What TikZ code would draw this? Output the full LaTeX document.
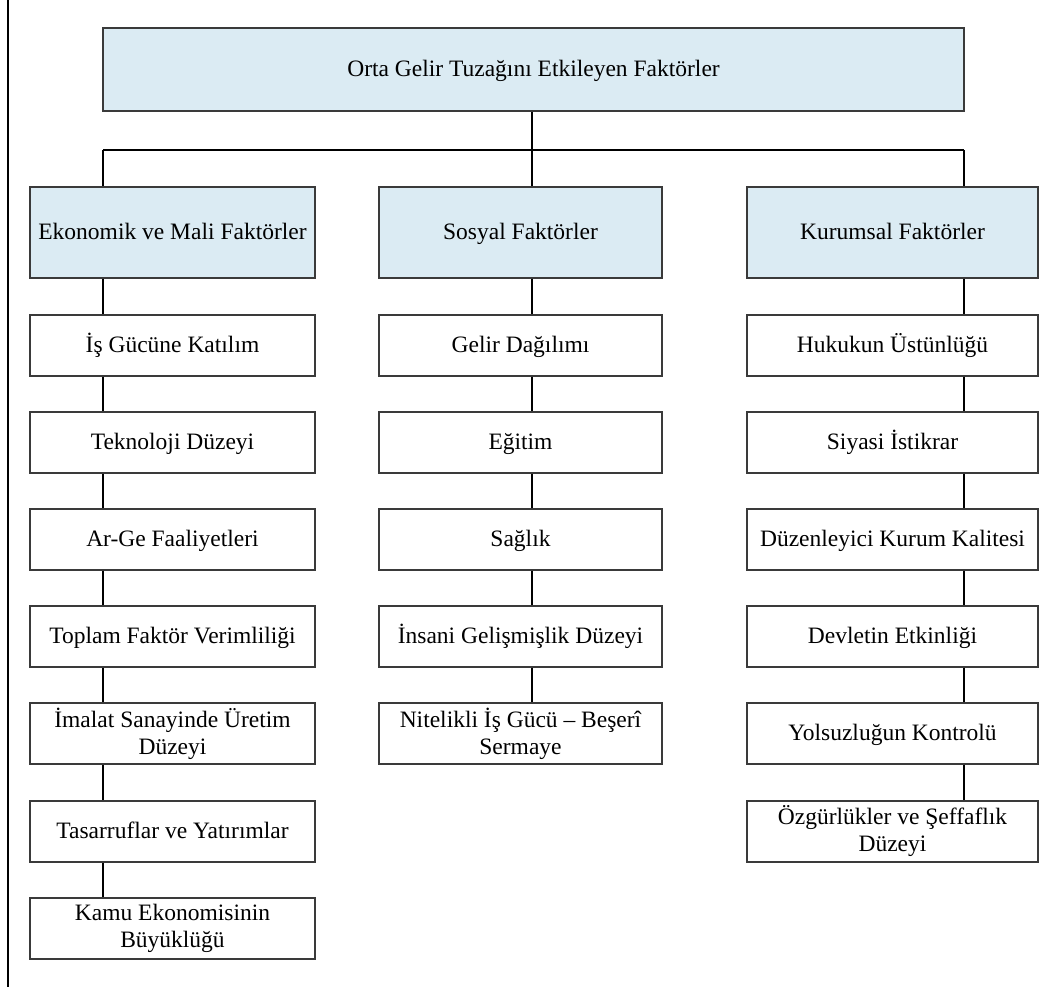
\documentclass[tikz,border=0pt]{standalone}
\usepackage{fontspec}
\setmainfont{Liberation Serif}
\definecolor{headblue}{HTML}{DBEBF3}
\definecolor{boxgray}{HTML}{3A3A3A}
\tikzset{
  factor/.style={draw=boxgray, line width=1.1pt, fill=white, inner sep=0pt,
    minimum width=285pt, minimum height=61pt, align=center,
    font=\fontsize{23.5}{27}\selectfont,
    execute at begin node={\vphantom{Ög}}, execute at end node={\vphantom{Ög}}},
  head/.style={factor, fill=headblue, minimum height=91pt},
  link/.style={line width=2pt, black}
}

\begin{document}
\begin{tikzpicture}[x=1pt,y=-1pt]
\useasboundingbox (0,0) rectangle (1051,987);
% frame line on the left
\draw [line width=1.5pt] (8,0)--(8,987);

% top and the three groups
\node[head, minimum width=861pt, minimum height=83pt] (top) at (533.5,69.5) {Orta Gelir Tuzağını Etkileyen Faktörler};
\node[head] (eko) at (172.5,232.5) {Ekonomik ve Mali Faktörler};
\node[head, minimum width=283pt] (sos) at (520.5,232.5) {Sosyal Faktörler};
\node[head, minimum width=291pt] (kur) at (892.5,232.5) {Kurumsal Faktörler};

% economic
\node[factor] (e1) at (172.5,345.5) {İş Gücüne Katılım};
\node[factor] (e2) at (172.5,442.5) {Teknoloji Düzeyi};
\node[factor] (e3) at (172.5,539.5) {Ar-Ge Faaliyetleri};
\node[factor] (e4) at (172.5,636.5) {Toplam Faktör Verimliliği};
\node[factor] (e5) at (172.5,733.5) {İmalat Sanayinde Üretim\\Düzeyi};
\node[factor] (e6) at (172.5,831.5) {Tasarruflar ve Yatırımlar};
\node[factor] (e7) at (172.5,928.5) {Kamu Ekonomisinin\\Büyüklüğü};

% social
\node[factor, minimum width=283pt] (s1) at (520.5,345.5) {Gelir Dağılımı};
\node[factor, minimum width=283pt] (s2) at (520.5,442.5) {Eğitim};
\node[factor, minimum width=283pt] (s3) at (520.5,539.5) {Sağlık};
\node[factor, minimum width=283pt] (s4) at (520.5,636.5) {İnsani Gelişmişlik Düzeyi};
\node[factor, minimum width=283pt] (s5) at (520.5,733.5) {Nitelikli İş Gücü – Beşerî\\Sermaye};

% institutional
\node[factor, minimum width=291pt] (k1) at (892.5,345.5) {Hukukun Üstünlüğü};
\node[factor, minimum width=291pt] (k2) at (892.5,442.5) {Siyasi İstikrar};
\node[factor, minimum width=291pt] (k3) at (892.5,539.5) {Düzenleyici Kurum Kalitesi};
\node[factor, minimum width=291pt] (k4) at (892.5,636.5) {Devletin Etkinliği};
\node[factor, minimum width=291pt] (k5) at (892.5,733.5) {Yolsuzluğun Kontrolü};
\node[factor, minimum width=291pt] (k6) at (892.5,831.5) {Özgürlükler ve Şeffaflık\\Düzeyi};

\coordinate (barL) at (103,150);
\coordinate (barM) at (532,150);
\coordinate (barR) at (964,150);

\draw[link] (top.south -| barM)--(barM);
\draw[link] (barL)--(barR);
\draw[link] (barL)--(eko.north -| barL);
\draw[link] (barM)--(sos.north -| barM);
\draw[link] (barR)--(kur.north -| barR);

\draw[link] (eko.south -| barL)--(e1.north -| barL) (e1.south -| barL)--(e2.north -| barL)
  (e2.south -| barL)--(e3.north -| barL) (e3.south -| barL)--(e4.north -| barL)
  (e4.south -| barL)--(e5.north -| barL) (e5.south -| barL)--(e6.north -| barL)
  (e6.south -| barL)--(e7.north -| barL);
\draw[link] (sos.south -| barM)--(s1.north -| barM) (s1.south -| barM)--(s2.north -| barM)
  (s2.south -| barM)--(s3.north -| barM) (s3.south -| barM)--(s4.north -| barM)
  (s4.south -| barM)--(s5.north -| barM);
\draw[link] (kur.south -| barR)--(k1.north -| barR) (k1.south -| barR)--(k2.north -| barR)
  (k2.south -| barR)--(k3.north -| barR) (k3.south -| barR)--(k4.north -| barR)
  (k4.south -| barR)--(k5.north -| barR) (k5.south -| barR)--(k6.north -| barR);
\end{tikzpicture}
\end{document}
